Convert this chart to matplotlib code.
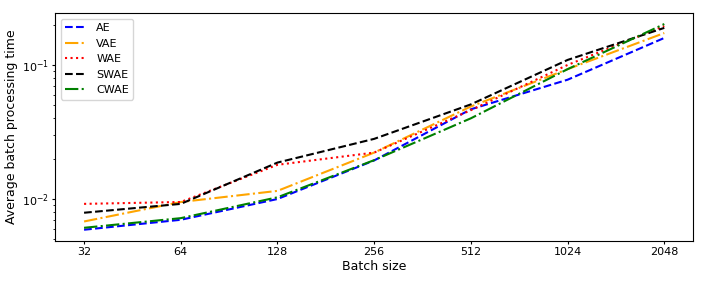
import matplotlib
matplotlib.use("Agg")
import matplotlib.pyplot as plt
from matplotlib.ticker import NullLocator

batch_sizes = [32, 64, 128, 256, 512, 1024, 2048]

ae = [0.0059, 0.0070, 0.0100, 0.0194, 0.0467, 0.0776, 0.159]
vae = [0.0068, 0.0095, 0.0115, 0.0222, 0.049, 0.093, 0.173]
wae = [0.0092, 0.0095, 0.0180, 0.0222, 0.046, 0.100, 0.195]
swae = [0.0079, 0.0092, 0.0187, 0.0281, 0.0508, 0.109, 0.189]
cwae = [0.0061, 0.0072, 0.0103, 0.0195, 0.040, 0.093, 0.202]

fig = plt.figure(figsize=(7.06, 2.83), dpi=100)
ax = fig.add_axes([0.078, 0.150, 0.904, 0.804])

ax.plot(batch_sizes, ae, color="blue", linestyle="--", label="AE")
ax.plot(batch_sizes, vae, color="orange", linestyle="-.", label="VAE")
ax.plot(batch_sizes, wae, color="red", linestyle=":", label="WAE")
ax.plot(batch_sizes, swae, color="black", linestyle="--", label="SWAE")
ax.plot(batch_sizes, cwae, color="green", linestyle="-.", label="CWAE")

ax.set_xscale("log", base=2)
ax.set_yscale("log")
ax.set_xticks(batch_sizes)
ax.set_xticklabels([str(b) for b in batch_sizes])
ax.xaxis.set_minor_locator(NullLocator())
ax.set_ylim(0.0049, 0.244)
ax.tick_params(labelsize=8, length=2.5, pad=2)
ax.tick_params(which="minor", length=1.5)

ax.set_xlabel("Batch size", fontsize=9, labelpad=2)
ax.set_ylabel("Average batch processing time", fontsize=9, labelpad=3)
ax.legend(loc="upper left", fontsize=8)

fig.savefig("out.png", dpi=100)
